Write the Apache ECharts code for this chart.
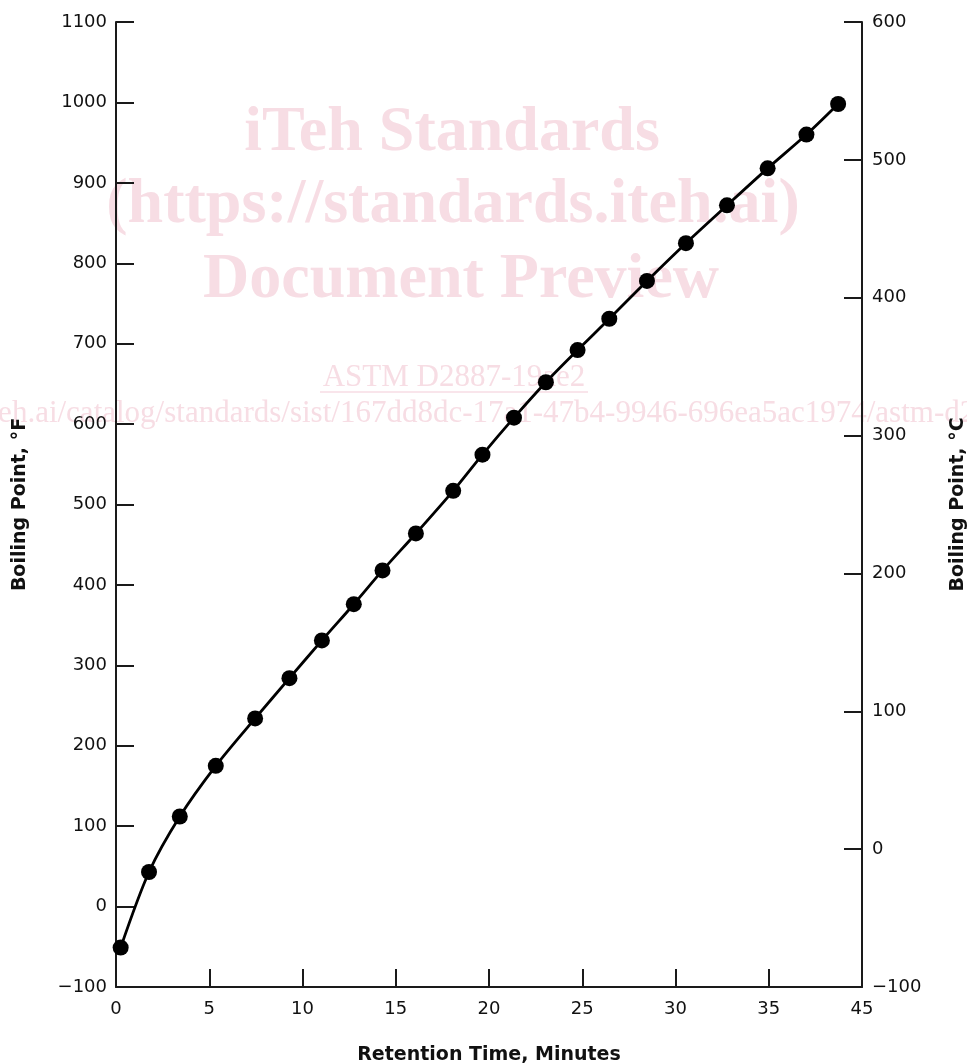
<!DOCTYPE html>
<html>
<head>
<meta charset="utf-8">
<script src="https://cdn.jsdelivr.net/npm/echarts@6/dist/echarts.min.js"></script>
<style>
html,body{margin:0;padding:0;background:#fff;overflow:hidden;}
#chart{width:967px;height:1063px;}
</style>
</head>
<body>
<div id="chart"></div>
<script>
// Retention time (minutes) and boiling point (°F) of calibration points
const retentionTime = [0.25, 1.77, 3.42, 5.35, 7.46, 9.30, 11.04, 12.75, 14.29, 16.08, 18.08,
  19.65, 21.34, 23.05, 24.75, 26.45, 28.47, 30.56, 32.76, 34.94, 37.02, 38.72];
const boilingPointF = [-51, 43, 112, 175, 234, 284, 331, 376, 418, 464, 517,
  562, 608, 652, 692, 731, 778, 825, 872, 918, 960, 998];
// x tick positions and the labels printed at them (the original skips 40)
const xTickValues = [0, 5, 10, 15, 20, 25, 30, 35, 40];
const xTickLabels = ['0', '5', '10', '15', '20', '25', '30', '35', '45'];
const yLeftTicks = { min: -100, max: 1100, interval: 100 };
const yRightTicks = { min: -100, max: 600, interval: 100 };

const FONT = 'DejaVu Sans';
const AX = '#1a1a1a';
const WM = '#f7dde4';

const chart = echarts.init(document.getElementById('chart'), null, { renderer: 'canvas' });

const axisCommon = {
  axisLine: { show: true, onZero: false, lineStyle: { color: AX, width: 2 } },
  axisTick: { show: true, inside: true, length: 18, lineStyle: { color: AX, width: 2 } },
  splitLine: { show: false },
  axisLabel: { color: '#111', fontFamily: FONT, fontSize: 18 },
  nameTextStyle: { color: '#111', fontFamily: FONT, fontSize: 19, fontWeight: 'bold' }
};

const minusFmt = v => v < 0 ? '\u2212' + Math.abs(v) : String(v);

const option = {
  backgroundColor: '#fff',
  animation: false,
  grid: { left: 116, right: 105, top: 22, bottom: 76, containLabel: false, outerBoundsMode: 'none' },
  xAxis: Object.assign({}, axisCommon, {
    type: 'value', min: 0, max: 40, interval: 5,
    position: 'bottom',
    name: 'Retention Time, Minutes', nameLocation: 'middle', nameGap: 59,
    axisLabel: Object.assign({}, axisCommon.axisLabel, {
      margin: 13,
      formatter: function (v) { const i = xTickValues.indexOf(v); return i >= 0 ? xTickLabels[i] : ''; }
    })
  }),
  yAxis: [
    Object.assign({}, axisCommon, {
      type: 'value', min: yLeftTicks.min, max: yLeftTicks.max, interval: yLeftTicks.interval,
      position: 'left',
      name: 'Boiling Point, °F', nameLocation: 'middle', nameRotate: 90, nameGap: 86,
      axisLabel: Object.assign({}, axisCommon.axisLabel, { margin: 9, formatter: minusFmt })
    }),
    Object.assign({}, axisCommon, {
      type: 'value', min: yRightTicks.min, max: yRightTicks.max, interval: yRightTicks.interval,
      position: 'right',
      name: 'Boiling Point, °C', nameLocation: 'middle', nameRotate: 90, nameGap: 87,
      axisLabel: Object.assign({}, axisCommon.axisLabel, { margin: 10, formatter: minusFmt })
    })
  ],
  series: [{
    type: 'line',
    yAxisIndex: 0,
    data: retentionTime.map((t, i) => [t, boilingPointF[i]]),
    smooth: 0.3,
    symbol: 'circle',
    symbolSize: 16,
    lineStyle: { color: '#000', width: 2.8 },
    itemStyle: { color: '#000' },
    z: 5
  }],
  // watermark overlay (drawn behind the data)
  graphic: [
    { type: 'text', z: -10, x: 452, y: 133, style: { text: 'iTeh Standards', fill: WM, font: 'bold 64px "Liberation Serif"', align: 'center', verticalAlign: 'middle' } },
    { type: 'text', z: -10, x: 453, y: 205, style: { text: '(https://standards.iteh.ai)', fill: WM, font: 'bold 64px "Liberation Serif"', align: 'center', verticalAlign: 'middle' } },
    { type: 'text', z: -10, x: 461, y: 280, style: { text: 'Document Preview', fill: WM, font: 'bold 64px "Liberation Serif"', align: 'center', verticalAlign: 'middle' } },
    { type: 'text', z: -10, x: 454, y: 378, style: { text: 'ASTM D2887-19ae2', fill: WM, font: '31px "Liberation Serif"', align: 'center', verticalAlign: 'middle' } },
    { type: 'line', z: -10, shape: { x1: 320, y1: 392, x2: 588, y2: 392 }, style: { stroke: WM, lineWidth: 1.5 } },
    { type: 'text', z: -10, x: 438, y: 414, style: { text: 'https://standards.iteh.ai/catalog/standards/sist/167dd8dc-17a1-47b4-9946-696ea5ac1974/astm-d2887-19ae2', fill: WM, font: '31px "Liberation Serif"', align: 'center', verticalAlign: 'middle' } }
  ]
};

chart.setOption(option);
</script>
</body>
</html>
